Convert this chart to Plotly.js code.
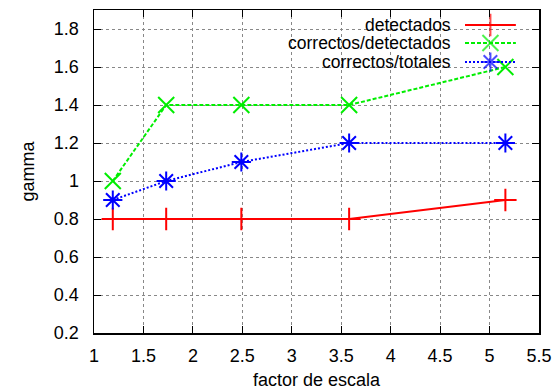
<!DOCTYPE html>
<html>
<head>
<meta charset="utf-8">
<script src="https://cdn.plot.ly/plotly-3.0.1.min.js"></script>
<style>html,body{margin:0;padding:0;background:#fff;}#chart{width:558px;height:391px;}</style>
</head>
<body>
<div id="chart"></div>
<script>
// Data
var factorEscala = [1.19, 1.73, 2.49, 3.58, 5.16];
var detectados = [0.8, 0.8, 0.8, 0.8, 0.9];
var correctosDetectados = [1.0, 1.4, 1.4, 1.4, 1.6];
var correctosTotales = [0.9, 1.0, 1.1, 1.2, 1.2];
var seriesNames = ["detectados", "correctos/detectados", "correctos/totales"];
var xTickVals = [1, 1.5, 2, 2.5, 3, 3.5, 4, 4.5, 5, 5.5];
var xTickText = ["1", "1.5", "2", "2.5", "3", "3.5", "4", "4.5", "5", "5.5"];
var yTickVals = [0.2, 0.4, 0.6, 0.8, 1.0, 1.2, 1.4, 1.6, 1.8];
var yTickText = ["0.2", "0.4", "0.6", "0.8", "1", "1.2", "1.4", "1.6", "1.8"];

var FONT = "Liberation Sans, Arial, Helvetica, sans-serif";
var styles = [
  {color: "#ff0000", dash: "solid", symbol: "cross-thin-open"},
  {color: "#00ee00", dash: "4px,2px", symbol: "x-thin-open"},
  {color: "#0000ff", dash: "2px,2px", symbol: "asterisk-open"}
];
var seriesValues = [detectados, correctosDetectados, correctosTotales];

var traces = [];
seriesValues.forEach(function (vals, i) {
  traces.push({
    type: "scatter", mode: "lines+markers",
    x: factorEscala, y: vals, name: seriesNames[i],
    line: {color: styles[i].color, width: 2, dash: styles[i].dash},
    marker: {symbol: styles[i].symbol, size: 16, line: {color: styles[i].color, width: 2}},
    showlegend: false, hoverinfo: "x+y"
  });
});

// custom legend (gnuplot style: text left, sample right)
var legX0 = 0.8337, legX1 = 0.948, legXc = (legX0 + legX1) / 2, legTextX = 0.8045;
var legRows = [0.9536, 0.8978, 0.839];
var annotations = [];
seriesNames.forEach(function (n, i) {
  traces.push({
    type: "scatter", mode: "lines+markers", xaxis: "x2", yaxis: "y2",
    x: [legX0, legXc, legX1], y: [legRows[i], legRows[i], legRows[i]],
    line: {color: styles[i].color, width: 2, dash: styles[i].dash},
    marker: {symbol: styles[i].symbol, size: [0, 16, 0], line: {color: styles[i].color, width: 2}},
    showlegend: false, hoverinfo: "skip"
  });
  annotations.push({
    xref: "paper", yref: "paper", x: legTextX, y: legRows[i],
    xanchor: "right", yanchor: "middle", showarrow: false, borderpad: 0,
    text: n, font: {family: FONT, size: 17.5, color: "#000"}
  });
});

var layout = {
  width: 558, height: 391,
  margin: {l: 94, r: 19, t: 10, b: 58, pad: 0},
  paper_bgcolor: "#fff", plot_bgcolor: "#fff",
  font: {family: FONT, size: 18, color: "#000"},
  showlegend: false,
  xaxis: {
    range: [1, 5.5], tickvals: xTickVals, ticktext: xTickText,
    ticks: "inside", ticklen: 7, tickwidth: 1, tickcolor: "#000",
    showline: true, linecolor: "#000", linewidth: 1.5, mirror: "ticks",
    showgrid: true, gridcolor: "#888", griddash: "dot", gridwidth: 1,
    zeroline: false, ticklabelstandoff: 6,
    tickfont: {family: FONT, size: 18},
    title: {text: "factor de escala", font: {family: FONT, size: 18}, standoff: 8}
  },
  yaxis: {
    range: [0.2, 1.9], tickvals: yTickVals, ticktext: yTickText,
    ticks: "inside", ticklen: 7, tickwidth: 1, tickcolor: "#000",
    showline: true, linecolor: "#000", linewidth: 1.5, mirror: "ticks",
    showgrid: true, gridcolor: "#888", griddash: "dot", gridwidth: 1,
    zeroline: false, ticklabelstandoff: 10,
    tickfont: {family: FONT, size: 18},
    title: {text: "gamma", font: {family: FONT, size: 18}, standoff: 14}
  },
  xaxis2: {overlaying: "x", range: [0, 1], visible: false, fixedrange: true},
  yaxis2: {overlaying: "y", range: [0, 1], visible: false, fixedrange: true},
  shapes: [{
    type: "rect", xref: "paper", yref: "paper", layer: "between",
    x0: 0.2876, x1: 0.973, y0: 0.805, y1: 1,
    fillcolor: "#fff", line: {width: 0}
  }],
  annotations: annotations
};

Plotly.newPlot("chart", traces, layout, {displayModeBar: false, staticPlot: true});
</script>
</body>
</html>
